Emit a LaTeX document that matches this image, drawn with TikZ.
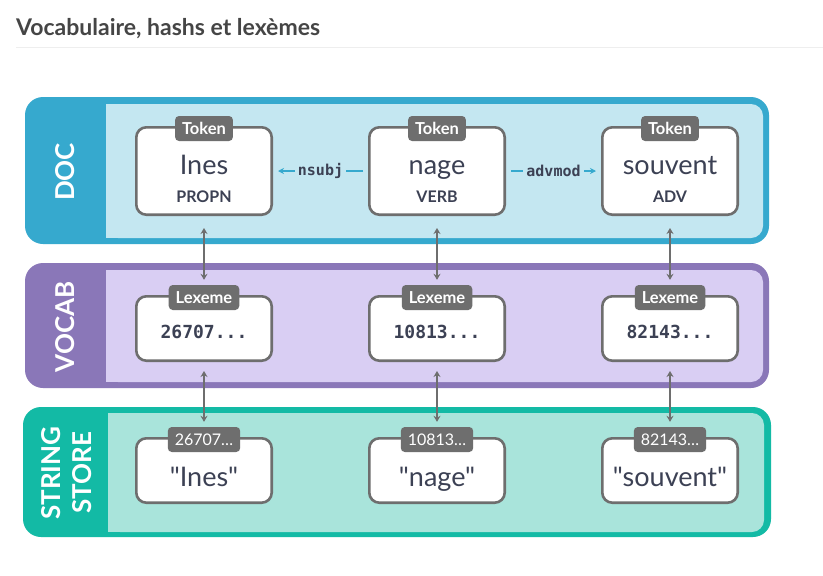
\documentclass[tikz,border=0pt]{standalone}
\usepackage{fontspec}
\setmainfont{Lato}
\newfontfamily\quotefont{Lato}
\newfontfamily\monofont{DejaVu Sans Mono}
\usepackage{xcolor}
\usetikzlibrary{arrows.meta,calc,positioning}

\definecolor{docdark}{HTML}{36A9CE}
\definecolor{doclight}{HTML}{C4E7F1}
\definecolor{vocdark}{HTML}{8A77B8}
\definecolor{voclight}{HTML}{D9CEF3}
\definecolor{strdark}{HTML}{13BAA5}
\definecolor{strlight}{HTML}{A9E4DB}
\definecolor{boxgray}{HTML}{6E6E6E}
\definecolor{inkdark}{HTML}{3C4154}
\definecolor{titlegray}{HTML}{454545}
\definecolor{rulegray}{HTML}{EEEEEE}

\tikzset{
  item/.style={draw=boxgray, line width=2.6pt, fill=white, rounded corners=10pt,
    minimum width=135.4pt, inner sep=0pt},
  tab/.style={fill=boxgray, text=white, rounded corners=4pt, minimum height=25pt,
    inner xsep=7pt, inner ysep=0pt, font=\bfseries\fontsize{16.5}{18}\selectfont},
  hashtab/.style={tab, font=\fontsize{16}{18}\selectfont},
  word/.style={text=inkdark, inner sep=0pt, font=\fontsize{27}{30}\selectfont},
  quoted/.style={word, font=\quotefont\fontsize{27}{30}\selectfont},
  postag/.style={text=inkdark, inner sep=0pt, font=\bfseries\fontsize{16}{18}\selectfont},
  hashnum/.style={text=inkdark, inner sep=0pt, font=\monofont\bfseries\fontsize{18}{20}\selectfont},
  panelname/.style={text=white, rotate=90, align=center, inner sep=0pt,
    font=\bfseries\fontsize{26}{31}\selectfont},
  hash/.style={draw=boxgray, line width=1.8pt,
    {Stealth[length=6pt,width=7pt]}-{Stealth[length=6pt,width=7pt]}},
  dep/.style={draw=docdark, line width=1.6pt, -{Stealth[length=6pt,width=6pt]},
    shorten <=5pt, shorten >=5pt},
  deplabel/.style={fill=doclight, text=inkdark, inner xsep=3pt, inner ysep=1pt,
    font=\monofont\bfseries\fontsize{15}{16}\selectfont}
}

\begin{document}
\begin{tikzpicture}[x=1pt,y=-1pt]
\useasboundingbox (0,0) rectangle (823,576);
\fill[white] (0,0) rectangle (823,576);

\node[anchor=base west, inner sep=0pt, text=titlegray,
  font=\bfseries\fontsize{23}{26}\selectfont] (title) at (16,35) {Vocabulaire, hashs et lexèmes};
\draw[rulegray, line width=1pt] (16,47) -- (823,47);

% panels
\fill[docdark, rounded corners=18pt] (25,97) rectangle (769,244);
\fill[doclight, rounded corners=12pt] (106,104) rectangle (763,238);
\fill[doclight] (106,104) rectangle (130,238);
\node[panelname] (docname) at (65,172) {DOC};

\fill[vocdark, rounded corners=18pt] (25,263) rectangle (769,388);
\fill[voclight, rounded corners=12pt] (106,270) rectangle (763,382);
\fill[voclight] (106,270) rectangle (130,382);
\node[panelname] (vocname) at (65,327) {VOCAB};

\fill[strdark, rounded corners=18pt] (23,407) rectangle (771,537);
\fill[strlight, rounded corners=12pt] (108,413) rectangle (764,532);
\fill[strlight] (108,413) rectangle (130,532);
\node[panelname] (strname) at (67,473) {STRING\\STORE};

% tokens
\node[item, minimum height=87.4pt] (tokIn) at (204,171) {};
\node[item, minimum height=87.4pt] (tokNa) at (437,171) {};
\node[item, minimum height=87.4pt] (tokSo) at (670,171) {};
\node[tab] (tokIn-tab) at ($(tokIn.north)+(0,2.5)$) {Token};
\node[tab] (tokNa-tab) at ($(tokNa.north)+(0,2.5)$) {Token};
\node[tab] (tokSo-tab) at ($(tokSo.north)+(0,2.5)$) {Token};
\node[word, anchor=base] (tokIn-txt) at ($(tokIn.center)+(0,3)$) {Ines};
\node[word, anchor=base] (tokNa-txt) at ($(tokNa.center)+(0,3)$) {nage};
\node[word, anchor=base] (tokSo-txt) at ($(tokSo.center)+(0,3)$) {souvent};
\node[postag, anchor=base] (tokIn-pos) at ($(tokIn.center)+(0,31)$) {PROPN};
\node[postag, anchor=base] (tokNa-pos) at ($(tokNa.center)+(0,31)$) {VERB};
\node[postag, anchor=base] (tokSo-pos) at ($(tokSo.center)+(0,31)$) {ADV};

\draw[dep] (tokNa) -- node[deplabel] (nsubj) {nsubj} (tokIn);
\draw[dep] (tokNa) -- node[deplabel] (advmod) {advmod} (tokSo);

% lexemes
\node[item, minimum height=64.4pt] (lexIn) at (204,328.5) {};
\node[item, minimum height=64.4pt] (lexNa) at (437,328.5) {};
\node[item, minimum height=64.4pt] (lexSo) at (670,328.5) {};
\node[tab] (lexIn-tab) at ($(lexIn.north)+(0,2.5)$) {Lexeme};
\node[tab] (lexNa-tab) at ($(lexNa.north)+(0,2.5)$) {Lexeme};
\node[tab] (lexSo-tab) at ($(lexSo.north)+(0,2.5)$) {Lexeme};
\node[hashnum, anchor=base] (lexIn-txt) at ($(lexIn.center)+(0,9.5)$) {26707...};
\node[hashnum, anchor=base] (lexNa-txt) at ($(lexNa.center)+(0,9.5)$) {10813...};
\node[hashnum, anchor=base] (lexSo-txt) at ($(lexSo.center)+(0,9.5)$) {82143...};

% strings
\node[item, minimum height=64.4pt] (strIn) at (204,470.5) {};
\node[item, minimum height=64.4pt] (strNa) at (437,470.5) {};
\node[item, minimum height=64.4pt] (strSo) at (670,470.5) {};
\node[hashtab] (strIn-tab) at ($(strIn.north)+(0,2.5)$) {26707…};
\node[hashtab] (strNa-tab) at ($(strNa.north)+(0,2.5)$) {10813…};
\node[hashtab] (strSo-tab) at ($(strSo.north)+(0,2.5)$) {82143…};
\node[quoted, anchor=base] (strIn-txt) at ($(strIn.center)+(0,15.5)$) {"Ines"};
\node[quoted, anchor=base] (strNa-txt) at ($(strNa.center)+(0,15.5)$) {"nage"};
\node[quoted, anchor=base] (strSo-txt) at ($(strSo.center)+(0,15.5)$) {"souvent"};

% hash links
\draw[hash, shorten <=12pt, shorten >=5pt] (tokIn) -- (lexIn-tab);
\draw[hash, shorten <=12pt, shorten >=5pt] (tokNa) -- (lexNa-tab);
\draw[hash, shorten <=12pt, shorten >=5pt] (tokSo) -- (lexSo-tab);
\draw[hash, shorten <=9pt, shorten >=5pt] (lexIn) -- (strIn-tab);
\draw[hash, shorten <=9pt, shorten >=5pt] (lexNa) -- (strNa-tab);
\draw[hash, shorten <=9pt, shorten >=5pt] (lexSo) -- (strSo-tab);
\end{tikzpicture}
\end{document}
